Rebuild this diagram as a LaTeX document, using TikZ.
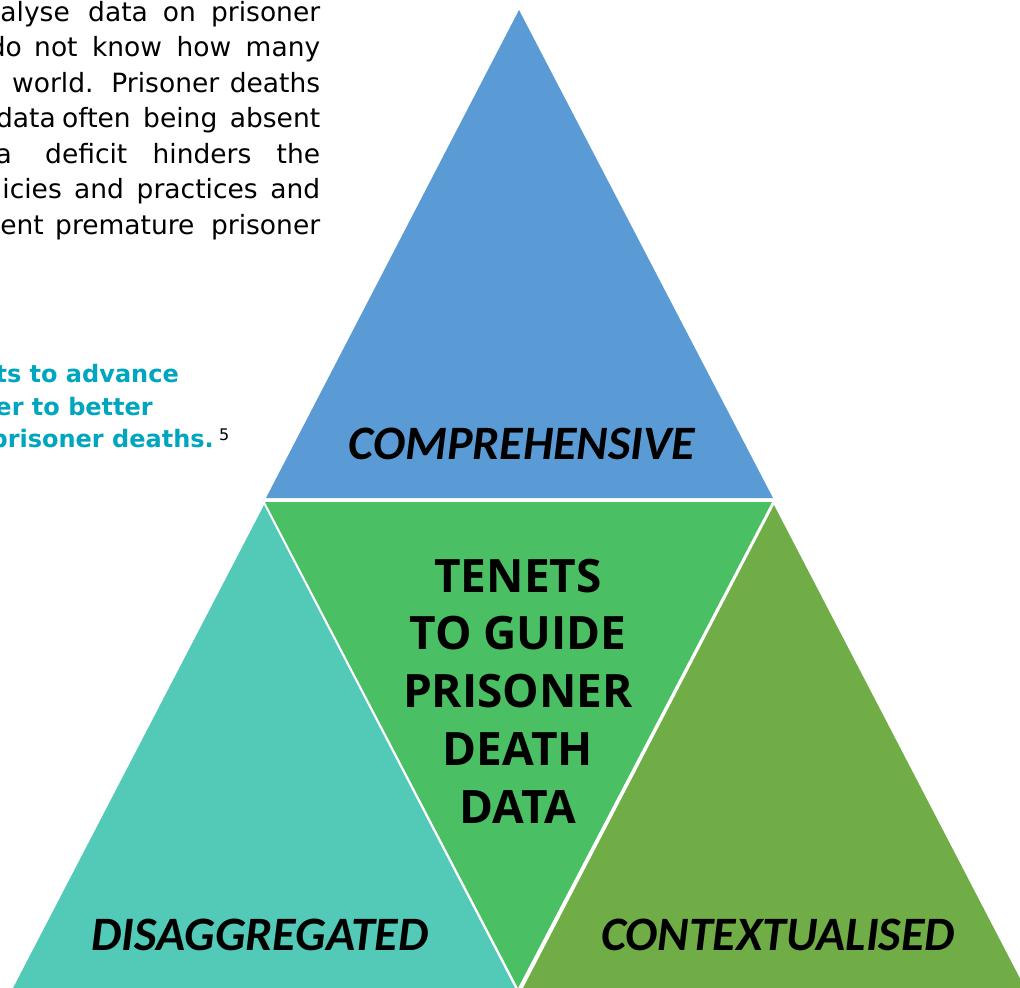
\documentclass[tikz,border=0pt]{standalone}
\usepackage{fontspec}
\newfontfamily\bodyf{DejaVu Sans}
\newfontfamily\triaf{Carlito}
\newfontfamily\centf{Open Sans}
\definecolor{tblue}{RGB}{91,155,213}
\definecolor{tgreen}{RGB}{74,191,100}
\definecolor{tteal}{RGB}{83,201,184}
\definecolor{tolive}{RGB}{112,173,71}
\definecolor{tcyan}{RGB}{0,165,192}
\tikzset{
  body/.style={inner sep=0pt, font=\bodyf\fontsize{26.5bp}{30bp}\selectfont},
  leadword/.style={body, anchor=base east},
  restline/.style={body, anchor=base west},
  cyanline/.style={inner sep=0pt, anchor=base east, text=tcyan, font=\bodyf\bfseries\fontsize{24bp}{28bp}\selectfont},
  trilabel/.style={inner sep=0pt, anchor=base, font=\triaf\bfseries\itshape\fontsize{48bp}{52bp}\selectfont},
  centline/.style={inner sep=0pt, anchor=base, font=\centf\bfseries\fontsize{46bp}{55bp}\selectfont}
}
\begin{document}
\begin{tikzpicture}[x=1bp,y=-1bp]
\useasboundingbox (0,0) rectangle (1020,988);
\fill[white] (0,0) rectangle (1020,988);
\clip (0,0) rectangle (1020,988);
% triangles
\fill[tblue]  (519,10) -- (773,498) -- (266,498) -- cycle;
\fill[tgreen] (265,502) -- (772,502) -- (518,988) -- cycle;
\fill[tteal]  (264,505) -- (516,990) -- (12,990) -- cycle;
\fill[tolive] (774,505) -- (1026,990) -- (522,990) -- cycle;
% body paragraph (cut at the left edge)
\node[leadword] (l1a) at (70,21) {analyse};
\node[restline] (l1b) at (88,21) {\makebox[232bp][s]{data on prisoner}};
\node[leadword] (l2a) at (22,56.5) {do};
\node[restline] (l2b) at (34,56.5) {\makebox[286bp][s]{not know how many}};
\node[restline] (l3b) at (12,92) {\makebox[308bp][s]{world. Prisoner deaths}};
\node[leadword] (l4a) at (56,127.5) {data};
\node[restline] (l4b) at (62,127.5) {\makebox[258bp][s]{often being absent}};
\node[leadword] (l5a) at (12,163) {data};
\node[restline] (l5b) at (45,163) {\makebox[275bp][s]{deficit hinders the}};
\node[leadword] (l6a) at (62,198.5) {policies};
\node[restline] (l6b) at (74,198.5) {\makebox[246bp][s]{and practices and}};
\node[leadword] (l7a) at (44,234) {prevent};
\node[restline] (l7b) at (55,234) {\makebox[265bp][s]{premature prisoner}};
% cyan statement
\node[cyanline] (c1) at (179,382) {ts to advance};
\node[cyanline] (c2) at (153,415) {er to better};
\node[cyanline] (c3) at (214,447) {prisoner deaths.};
\node[inner sep=0pt, anchor=base west, font=\bodyf\fontsize{16bp}{18bp}\selectfont] (fn) at (219,440) {5};
% triangle labels
\node[trilabel] (comp) at (522,459) {COMPREHENSIVE};
\node[trilabel] (disa) at (260,950) {DISAGGREGATED};
\node[trilabel] (cont) at (778,950) {CONTEXTUALISED};
% centre text
\node[centline] (t1) at (518,592) {TENETS};
\node[centline] (t2) at (518,649) {TO GUIDE};
\node[centline] (t3) at (518,707) {PRISONER};
\node[centline] (t4) at (518,765) {DEATH};
\node[centline] (t5) at (518,823) {DATA};
\end{tikzpicture}
\end{document}
